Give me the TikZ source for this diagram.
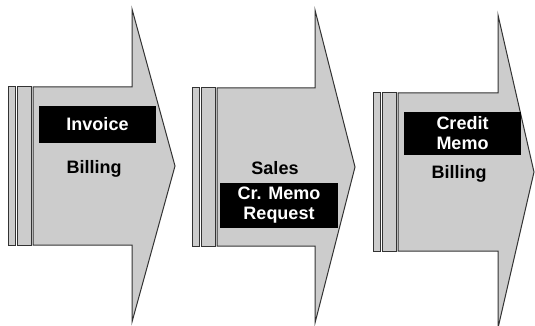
\documentclass[tikz,border=0pt]{standalone}
\usepackage{fontspec}
\setmainfont{Liberation Sans}
\usetikzlibrary{positioning}

\begin{document}
\begin{tikzpicture}[x=1pt, y=-1pt,
  body/.style={draw=black!80, fill=gray!40, line width=1pt, line join=miter},
  tag/.style={fill=black, text=white, font=\bfseries\fontsize{18}{20}\selectfont, align=center, inner sep=0pt},
  lab/.style={font=\bfseries\fontsize{18}{20}\selectfont, anchor=base, inner sep=0pt}]
  \useasboundingbox (0,0) rectangle (535,326);
  % process arrows: left edge, top edge, head base, tip
  \foreach \l/\t/\h/\p in {33/87/132/175, 217/88/315/355, 398/93/498/534} {
    \draw[body] (\l-25,\t) rectangle (\l-18,\t+158);
    \draw[body] (\l-16,\t) rectangle (\l-2,\t+158);
    \draw[body] (\l,\t) -- (\h,\t) -- (\h,\t-78) -- (\p,\t+79) -- (\h,\t+235) -- (\h,\t+158) -- (\l,\t+158) -- cycle;
  }
  % first arrow
  \node[tag, minimum width=117pt, minimum height=37pt] (invoice) at (97.5,124.5) {Invoice};
  \node[lab] (billing1) at (94,173) {Billing};
  % second arrow
  \node[lab] (sales) at (275,174) {Sales};
  \node[tag, minimum width=118pt, minimum height=45pt] (crmemo) at (279,205.5) {Cr. Memo\\Request};
  % third arrow
  \node[tag, minimum width=117pt, minimum height=43pt] (credit) at (462.5,133.5) {Credit\\Memo};
  \node[lab] (billing3) at (459,178) {Billing};
\end{tikzpicture}
\end{document}
